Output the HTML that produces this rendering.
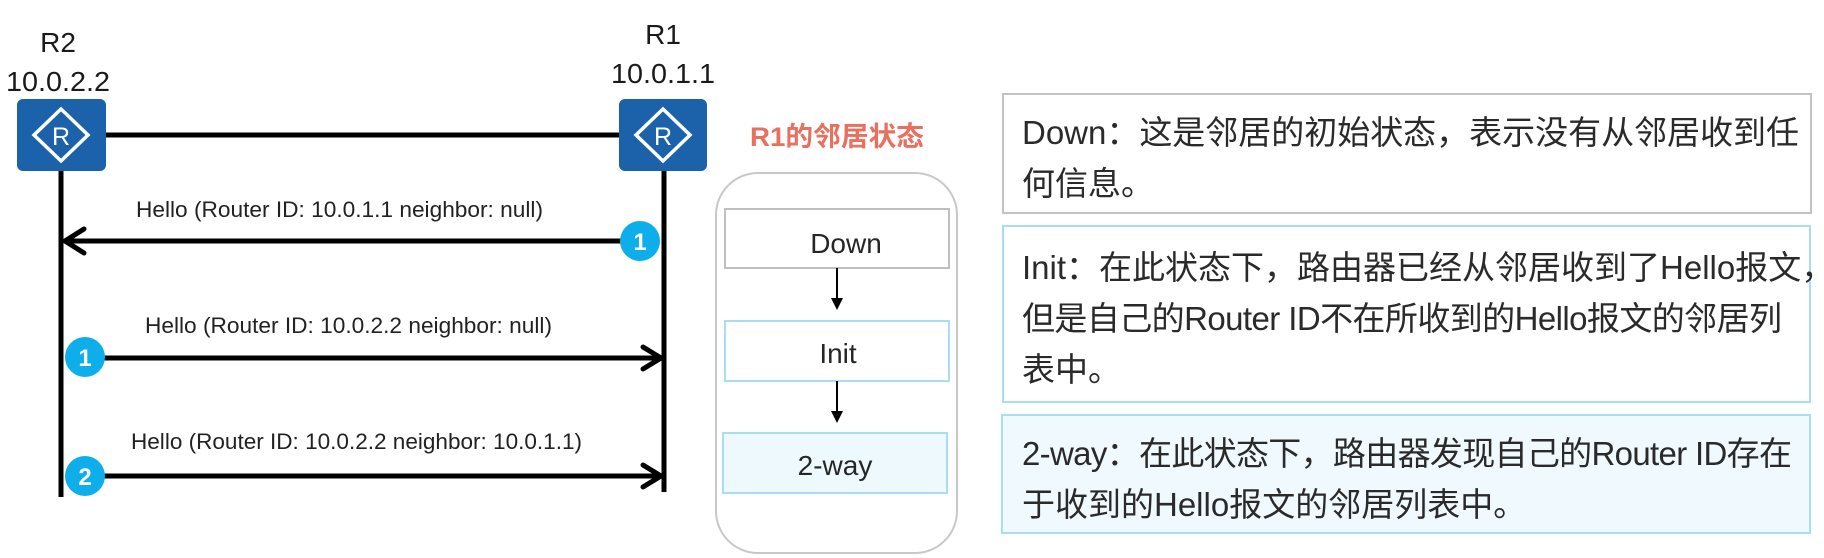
<!DOCTYPE html>
<html>
<head>
<meta charset="utf-8">
<style>
  html, body { margin: 0; padding: 0; background: #ffffff; }
  svg { display: block; }
  .lat { font-family: "Liberation Sans", sans-serif; }
  .cjk { font-family: "Liberation Sans", "Noto Sans CJK SC", sans-serif; }
</style>
</head>
<body>
<svg width="1824" height="558" viewBox="0 0 1824 558" xmlns="http://www.w3.org/2000/svg">
  <rect x="0" y="0" width="1824" height="558" fill="#ffffff"/>

  <!-- Router labels -->
  <text class="lat" x="58" y="52" text-anchor="middle" font-size="28" fill="#1a1a1a">R2</text>
  <text class="lat" x="58" y="91" text-anchor="middle" font-size="28" fill="#1a1a1a" textLength="104" lengthAdjust="spacingAndGlyphs">10.0.2.2</text>
  <text class="lat" x="663" y="44" text-anchor="middle" font-size="28" fill="#1a1a1a">R1</text>
  <text class="lat" x="663" y="83" text-anchor="middle" font-size="28" fill="#1a1a1a" textLength="104" lengthAdjust="spacingAndGlyphs">10.0.1.1</text>

  <!-- link line -->
  <line x1="104" y1="135" x2="621" y2="135" stroke="#000" stroke-width="5"/>

  <!-- Router R2 icon -->
  <rect x="17" y="99" width="89" height="72" rx="6" fill="#1b62ab"/>
  <polygon points="34,135 61,109 88,135 61,161" fill="none" stroke="#ffffff" stroke-width="3.5" stroke-linejoin="miter"/>
  <text class="lat" x="61" y="145" text-anchor="middle" font-size="25" fill="#ffffff">R</text>

  <!-- Router R1 icon -->
  <rect x="619" y="99" width="88" height="72" rx="6" fill="#1b62ab"/>
  <polygon points="636,135 663,109 690,135 663,161" fill="none" stroke="#ffffff" stroke-width="3.5" stroke-linejoin="miter"/>
  <text class="lat" x="663" y="145" text-anchor="middle" font-size="25" fill="#ffffff">R</text>

  <!-- vertical lifelines -->
  <line x1="61" y1="171" x2="61" y2="497" stroke="#000" stroke-width="5"/>
  <line x1="664" y1="171" x2="664" y2="492" stroke="#000" stroke-width="5"/>

  <!-- Message 1: R1 -> R2 -->
  <text class="lat" x="136" y="217" font-size="22" fill="#222" textLength="407" lengthAdjust="spacingAndGlyphs">Hello (Router ID: 10.0.1.1 neighbor: null)</text>
  <line x1="622" y1="241" x2="66" y2="241" stroke="#000" stroke-width="5"/>
  <polyline points="84,229 65,241 84,253" fill="none" stroke="#000" stroke-width="5" stroke-linecap="round" stroke-linejoin="miter"/>
  <circle cx="640" cy="241" r="20" fill="#0eaeea"/>
  <text class="lat" x="640" y="250" text-anchor="middle" font-size="24" font-weight="bold" fill="#ffffff">1</text>

  <!-- Message 2: R2 -> R1 -->
  <text class="lat" x="145" y="333" font-size="22" fill="#222" textLength="407" lengthAdjust="spacingAndGlyphs">Hello (Router ID: 10.0.2.2 neighbor: null)</text>
  <line x1="100" y1="358" x2="660" y2="358" stroke="#000" stroke-width="5"/>
  <polyline points="643,347 661,358 643,369" fill="none" stroke="#000" stroke-width="5" stroke-linecap="round" stroke-linejoin="miter"/>
  <circle cx="85" cy="357" r="20" fill="#0eaeea"/>
  <text class="lat" x="85" y="366" text-anchor="middle" font-size="24" font-weight="bold" fill="#ffffff">1</text>

  <!-- Message 3: R2 -> R1 -->
  <text class="lat" x="131" y="449" font-size="22" fill="#222" textLength="451" lengthAdjust="spacingAndGlyphs">Hello (Router ID: 10.0.2.2 neighbor: 10.0.1.1)</text>
  <line x1="100" y1="476" x2="660" y2="476" stroke="#000" stroke-width="5"/>
  <polyline points="643,465 661,476 643,487" fill="none" stroke="#000" stroke-width="5" stroke-linecap="round" stroke-linejoin="miter"/>
  <circle cx="85" cy="476" r="20" fill="#0eaeea"/>
  <text class="lat" x="85" y="485" text-anchor="middle" font-size="24" font-weight="bold" fill="#ffffff">2</text>

  <!-- R1 neighbor state title -->
  <text class="cjk" x="837" y="146" text-anchor="middle" font-size="27" font-weight="bold" fill="#e9705e" textLength="174" lengthAdjust="spacingAndGlyphs">R1的邻居状态</text>

  <!-- rounded container -->
  <rect x="716" y="173" width="241" height="380" rx="42" ry="42" fill="#ffffff" stroke="#c8c8c8" stroke-width="2"/>

  <!-- Down box -->
  <rect x="725" y="209" width="224" height="59" fill="#ffffff" stroke="#bfbfbf" stroke-width="2"/>
  <text class="lat" x="846" y="253" text-anchor="middle" font-size="28" fill="#262626">Down</text>

  <!-- arrow -->
  <line x1="837" y1="268" x2="837" y2="300" stroke="#000" stroke-width="2"/>
  <polygon points="831,298 843,298 837,310" fill="#000"/>

  <!-- Init box -->
  <rect x="725" y="321" width="224" height="60" fill="#ffffff" stroke="#a9def0" stroke-width="2"/>
  <text class="lat" x="838" y="363" text-anchor="middle" font-size="28" fill="#262626">Init</text>

  <!-- arrow -->
  <line x1="837" y1="381" x2="837" y2="413" stroke="#000" stroke-width="2"/>
  <polygon points="831,411 843,411 837,423" fill="#000"/>

  <!-- 2-way box -->
  <rect x="723" y="433" width="224" height="60" fill="#eef9fd" stroke="#a9def0" stroke-width="2"/>
  <text class="lat" x="835" y="475" text-anchor="middle" font-size="28" fill="#262626">2-way</text>

  <!-- Right description boxes -->
  <rect x="1003" y="94" width="808" height="119" fill="#ffffff" stroke="#c3c3c3" stroke-width="2"/>
  <text class="cjk" x="1022" y="144" font-size="33" fill="#2a2a2a" textLength="777" lengthAdjust="spacing">Down：这是邻居的初始状态，表示没有从邻居收到任</text>
  <text class="cjk" x="1022" y="195" font-size="33" fill="#2a2a2a">何信息。</text>

  <rect x="1003" y="226" width="807" height="176" fill="#ffffff" stroke="#a8dff0" stroke-width="2"/>
  <text class="cjk" x="1022" y="279" font-size="33" fill="#2a2a2a">Init：在此状态下，路由器已经从邻居收到了Hello报文，</text>
  <text class="cjk" x="1022" y="330" font-size="33" fill="#2a2a2a" textLength="760" lengthAdjust="spacing">但是自己的Router ID不在所收到的Hello报文的邻居列</text>
  <text class="cjk" x="1022" y="381" font-size="33" fill="#2a2a2a">表中。</text>

  <rect x="1002" y="415" width="808" height="118" fill="#f0f9fd" stroke="#a8dff0" stroke-width="2"/>
  <text class="cjk" x="1022" y="465" font-size="33" fill="#2a2a2a" textLength="770" lengthAdjust="spacing">2-way：在此状态下，路由器发现自己的Router ID存在</text>
  <text class="cjk" x="1022" y="516" font-size="33" fill="#2a2a2a">于收到的Hello报文的邻居列表中。</text>
</svg>
</body>
</html>
